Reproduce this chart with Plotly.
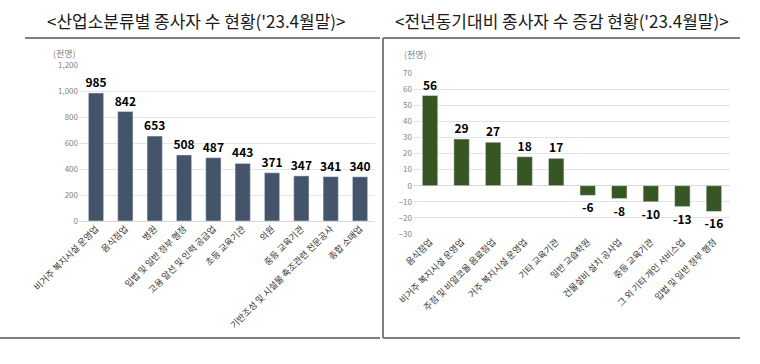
import plotly.graph_objects as go

W, H = 760, 364

left_title = "<산업소분류별 종사자 수 현황('23.4월말)>"
right_title = "<전년동기대비 종사자 수 증감 현황('23.4월말)>"
unit_label = "(천명)"

left_categories = ["비거주 복지시설 운영업", "음식점업", "병원", "입법 및 일반 정부 행정",
                   "고용 알선 및 인력 공급업", "초등 교육기관", "의원", "중등 교육기관",
                   "기반조성 및 시설물 축조관련 전문공사", "종합 소매업"]
left_values = [985, 842, 653, 508, 487, 443, 371, 347, 341, 340]

right_categories = ["음식점업", "비거주 복지시설 운영업", "주점 및 비알코올 음료점업",
                    "거주 복지시설 운영업", "기타 교육기관", "일반 교습학원",
                    "건물설비 설치 공사업", "중등 교육기관", "그 외 기타 개인 서비스업",
                    "입법 및 일반 정부 행정"]
right_values = [56, 29, 27, 18, 17, -6, -8, -10, -13, -16]

left_ticks = [0, 200, 400, 600, 800, 1000, 1200]
left_ticktext = ["0", "200", "400", "600", "800", "1,000", "1,200"]
right_ticks = [-30, -20, -10, 0, 10, 20, 30, 40, 50, 60, 70]

FONT = "Noto Sans CJK KR"


def px(x):
    return x / W


def py(y):
    return 1 - y / H


fig = go.Figure()

fig.add_trace(go.Bar(
    x=left_categories, y=left_values, xaxis="x", yaxis="y",
    marker=dict(color="#44546A"), width=0.52,
    text=["<b>%d</b>" % v for v in left_values], textposition="outside",
    constraintext="none",
    textfont=dict(family=FONT, size=12, color="#000000"),
    cliponaxis=False, showlegend=False,
))
fig.add_trace(go.Bar(
    x=right_categories, y=right_values, xaxis="x2", yaxis="y2",
    marker=dict(color="#375623"), width=0.49,
    text=["<b>%d</b>" % v for v in right_values], textposition="outside",
    constraintext="none",
    textfont=dict(family=FONT, size=12, color="#000000"),
    cliponaxis=False, showlegend=False,
))

tickfont_cat = dict(family=FONT, size=9, color="#333333")
tickfont_val = dict(family=FONT, size=8, color="#7f7f7f")

fig.update_layout(
    width=W, height=H,
    margin=dict(l=0, r=0, t=0, b=0),
    paper_bgcolor="white", plot_bgcolor="white",
    font=dict(family=FONT),
    xaxis=dict(domain=[px(79), px(375)], anchor="y", type="category",
               range=[-0.58, 9.51], tickangle=-45, tickfont=tickfont_cat,
               showgrid=False, ticks="", showline=False, automargin=False),
    yaxis=dict(domain=[py(221), py(65)], anchor="x", range=[0, 1200],
               tickvals=left_ticks, ticktext=left_ticktext, tickfont=tickfont_val,
               showgrid=True, gridcolor="#e3e3e3", gridwidth=1, zeroline=True,
               zerolinecolor="#d9d9d9", zerolinewidth=1, showline=False, ticks="",
               automargin=False),
    xaxis2=dict(domain=[px(413), px(730)], anchor="y2", type="category",
                range=[-0.54, 9.51], tickangle=-45, tickfont=tickfont_cat,
                showgrid=False, ticks="", showline=False, automargin=False),
    yaxis2=dict(domain=[py(234), py(73)], anchor="x2", range=[-30, 70],
                tickvals=right_ticks, tickfont=tickfont_val,
                showgrid=True, gridcolor="#e3e3e3", gridwidth=1, zeroline=True,
                zerolinecolor="#d9d9d9", zerolinewidth=1, showline=False, ticks="",
                automargin=False),
    annotations=[
        dict(text=left_title, x=px(197), y=py(20), xref="paper", yref="paper",
             xanchor="center", yanchor="middle",
             showarrow=False, font=dict(family=FONT, size=17, color="#1a1a1a")),
        dict(text=right_title, x=px(562), y=py(20), xref="paper", yref="paper",
             xanchor="center", yanchor="middle",
             showarrow=False, font=dict(family=FONT, size=17, color="#1a1a1a")),
        dict(text=unit_label, x=px(64), y=py(53), xref="paper", yref="paper",
             xanchor="center", yanchor="middle",
             showarrow=False, font=dict(family=FONT, size=9, color="#7f7f7f")),
        dict(text=unit_label, x=px(415), y=py(54), xref="paper", yref="paper",
             xanchor="center", yanchor="middle",
             showarrow=False, font=dict(family=FONT, size=9, color="#7f7f7f")),
    ],
    shapes=[
        dict(type="line", xref="paper", yref="paper", x0=px(25), x1=px(380),
             y0=py(38), y1=py(38), line=dict(color="#7f7f7f", width=2)),
        dict(type="line", xref="paper", yref="paper", x0=px(383), x1=px(740),
             y0=py(38), y1=py(38), line=dict(color="#7f7f7f", width=2)),
        dict(type="line", xref="paper", yref="paper", x0=px(383), x1=px(383),
             y0=py(38), y1=py(338), line=dict(color="#7f7f7f", width=2)),
        dict(type="line", xref="paper", yref="paper", x0=px(0), x1=px(380),
             y0=py(338), y1=py(338), line=dict(color="#7f7f7f", width=2)),
        dict(type="line", xref="paper", yref="paper", x0=px(383), x1=px(740),
             y0=py(338), y1=py(338), line=dict(color="#7f7f7f", width=2)),
    ],
)

fig.write_html("out.html", config={"displayModeBar": False},
               post_script="document.body.style.margin='0';")
